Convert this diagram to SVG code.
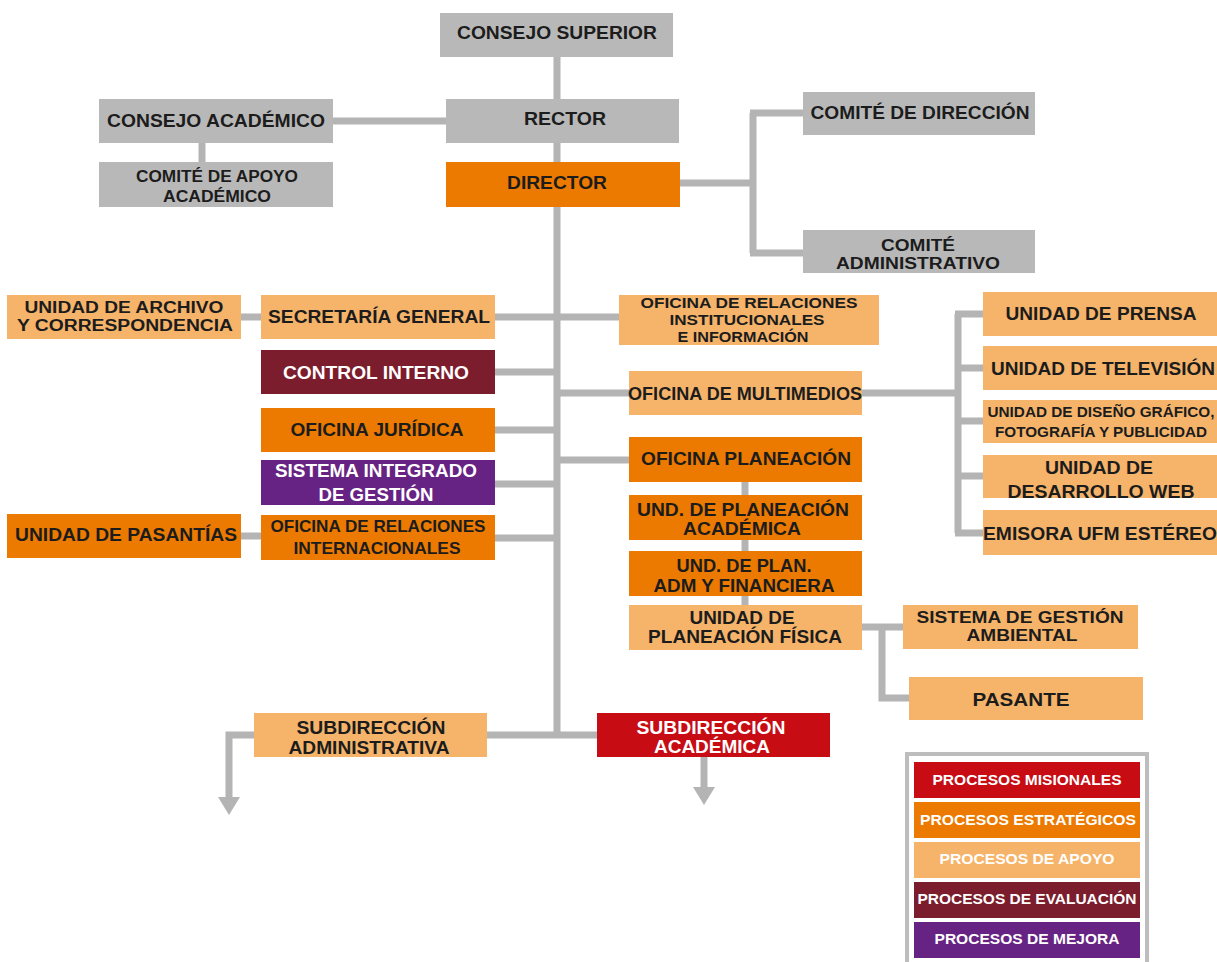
<svg xmlns="http://www.w3.org/2000/svg" width="1217" height="962" viewBox="0 0 1217 962">
<style>
.gray{fill:#b8b8b8}.org{fill:#ec7a00}.lo{fill:#f6b46b}.dr{fill:#7b1d2c}.pu{fill:#672383}.rd{fill:#c70c14}
.t{font-family:"Liberation Sans",Arial,sans-serif;font-weight:bold;text-anchor:middle;fill:#1c1c1c}
.w{fill:#ffffff}
.f19{font-size:19px}.f17{font-size:17px}.f16{font-size:16px}.f15{font-size:15px}.f14{font-size:14px}
.c{stroke:#b4b4b4;stroke-width:7;fill:none}
.ah{fill:#b4b4b4}
</style>
<rect width="1217" height="962" fill="#ffffff"/>
<g id="connectors">
<path class="c" d="M557 57V738"/>
<path class="c" d="M333 121H446"/>
<path class="c" d="M202 143V162"/>
<path class="c" d="M680 183H753M753 113V253M750 113H803M750 253H803"/>
<path class="c" d="M495 317H557M241 317H261"/>
<path class="c" d="M495 372H557"/>
<path class="c" d="M495 430H557"/>
<path class="c" d="M495 484H557"/>
<path class="c" d="M495 538H557M241 536H261"/>
<path class="c" d="M557 317H619"/>
<path class="c" d="M557 393H629"/>
<path class="c" d="M557 460H629"/>
<path class="c" d="M862 393H958M958 314V533M955 314H983M955 368H983M955 421H983M955 476H983M955 533H983"/>
<path class="c" d="M745 482V605"/>
<path class="c" d="M862 627H903M882 627V698H909"/>
<path class="c" d="M487 735H597M254 735H229V798"/>
<polygon class="ah" points="218,797 240,797 229,815"/>
<path class="c" d="M704 757V790"/>
<polygon class="ah" points="693,787 715,787 704,805"/>
</g>
<g id="consejo-superior"><rect class="gray" x="440" y="13" width="233" height="44"/><text class="t f19" x="557" y="39" textLength="200" lengthAdjust="spacingAndGlyphs">CONSEJO SUPERIOR</text></g>
<g id="rector"><rect class="gray" x="446" y="99" width="233" height="44"/><text class="t f19" x="565" y="125" textLength="82" lengthAdjust="spacingAndGlyphs">RECTOR</text></g>
<g id="consejo-academico"><rect class="gray" x="99" y="99" width="234" height="44"/><text class="t f19" x="216" y="127" textLength="218" lengthAdjust="spacingAndGlyphs">CONSEJO ACADÉMICO</text></g>
<g id="comite-apoyo"><rect class="gray" x="99" y="162" width="234" height="45"/><text class="t f16" x="217" y="182" textLength="162" lengthAdjust="spacingAndGlyphs">COMITÉ DE APOYO</text><text class="t f16" x="217" y="202" textLength="108" lengthAdjust="spacingAndGlyphs">ACADÉMICO</text></g>
<g id="director"><rect class="org" x="446" y="162" width="234" height="45"/><text class="t f19" x="557" y="189" textLength="100" lengthAdjust="spacingAndGlyphs">DIRECTOR</text></g>
<g id="comite-direccion"><rect class="gray" x="803" y="92" width="232" height="43"/><text class="t f19" x="920" y="119" textLength="219" lengthAdjust="spacingAndGlyphs">COMITÉ DE DIRECCIÓN</text></g>
<g id="comite-administrativo"><rect class="gray" x="803" y="230" width="232" height="43"/><text class="t f16" x="918" y="251" textLength="74" lengthAdjust="spacingAndGlyphs">COMITÉ</text><text class="t f16" x="918" y="269" textLength="164" lengthAdjust="spacingAndGlyphs">ADMINISTRATIVO</text></g>
<g id="unidad-archivo"><rect class="lo" x="7" y="295" width="234" height="44"/><text class="t f16" x="124" y="313" textLength="199" lengthAdjust="spacingAndGlyphs">UNIDAD DE ARCHIVO</text><text class="t f16" x="125" y="331" textLength="216" lengthAdjust="spacingAndGlyphs">Y CORRESPONDENCIA</text></g>
<g id="secretaria-general"><rect class="lo" x="261" y="295" width="234" height="44"/><text class="t f19" x="379" y="323" textLength="222" lengthAdjust="spacingAndGlyphs">SECRETARÍA GENERAL</text></g>
<g id="relaciones-institucionales"><rect class="lo" x="619" y="295" width="260" height="50"/><text class="t f15" x="749" y="308" textLength="217" lengthAdjust="spacingAndGlyphs">OFICINA DE RELACIONES</text><text class="t f15" x="747" y="325" textLength="155" lengthAdjust="spacingAndGlyphs">INSTITUCIONALES</text><text class="t f15" x="743" y="342" textLength="131" lengthAdjust="spacingAndGlyphs">E INFORMACIÓN</text></g>
<g id="control-interno"><rect class="dr" x="261" y="350" width="234" height="44"/><text class="t w f19" x="376" y="379" textLength="186" lengthAdjust="spacingAndGlyphs">CONTROL INTERNO</text></g>
<g id="oficina-multimedios"><rect class="lo" x="629" y="371" width="233" height="44"/><text class="t f19" x="745" y="400" textLength="234" lengthAdjust="spacingAndGlyphs">OFICINA DE MULTIMEDIOS</text></g>
<g id="unidad-prensa"><rect class="lo" x="983" y="292" width="234" height="44"/><text class="t f19" x="1101" y="320" textLength="191" lengthAdjust="spacingAndGlyphs">UNIDAD DE PRENSA</text></g>
<g id="unidad-television"><rect class="lo" x="983" y="346" width="234" height="44"/><text class="t f19" x="1103" y="375" textLength="224" lengthAdjust="spacingAndGlyphs">UNIDAD DE TELEVISIÓN</text></g>
<g id="unidad-diseno"><rect class="lo" x="983" y="400" width="234" height="43"/><text class="t f15" x="1101" y="417" textLength="227" lengthAdjust="spacingAndGlyphs">UNIDAD DE DISEÑO GRÁFICO,</text><text class="t f15" x="1101" y="437" textLength="212" lengthAdjust="spacingAndGlyphs">FOTOGRAFÍA Y PUBLICIDAD</text></g>
<g id="unidad-web"><rect class="lo" x="983" y="455" width="234" height="43"/><text class="t f19" x="1099" y="474" textLength="108" lengthAdjust="spacingAndGlyphs">UNIDAD DE</text><text class="t f19" x="1101" y="498" textLength="187" lengthAdjust="spacingAndGlyphs">DESARROLLO WEB</text></g>
<g id="emisora"><rect class="lo" x="983" y="510" width="234" height="45"/><text class="t f19" x="1100" y="540" textLength="234" lengthAdjust="spacingAndGlyphs">EMISORA UFM ESTÉREO</text></g>
<g id="oficina-juridica"><rect class="org" x="261" y="408" width="234" height="44"/><text class="t f19" x="377" y="436" textLength="173" lengthAdjust="spacingAndGlyphs">OFICINA JURÍDICA</text></g>
<g id="oficina-planeacion"><rect class="org" x="629" y="437" width="233" height="45"/><text class="t f19" x="746" y="465" textLength="210" lengthAdjust="spacingAndGlyphs">OFICINA PLANEACIÓN</text></g>
<g id="sistema-integrado"><rect class="pu" x="261" y="460" width="234" height="45"/><text class="t w f19" x="376" y="477" textLength="202" lengthAdjust="spacingAndGlyphs">SISTEMA INTEGRADO</text><text class="t w f19" x="376" y="501" textLength="115" lengthAdjust="spacingAndGlyphs">DE GESTIÓN</text></g>
<g id="und-planeacion-academica"><rect class="org" x="629" y="495" width="233" height="45"/><text class="t f19" x="743" y="516" textLength="212" lengthAdjust="spacingAndGlyphs">UND. DE PLANEACIÓN</text><text class="t f19" x="742" y="535" textLength="118" lengthAdjust="spacingAndGlyphs">ACADÉMICA</text></g>
<g id="unidad-pasantias"><rect class="org" x="7" y="514" width="234" height="44"/><text class="t f19" x="126" y="541" textLength="222" lengthAdjust="spacingAndGlyphs">UNIDAD DE PASANTÍAS</text></g>
<g id="relaciones-internacionales"><rect class="org" x="261" y="515" width="234" height="45"/><text class="t f17" x="378" y="532" textLength="215" lengthAdjust="spacingAndGlyphs">OFICINA DE RELACIONES</text><text class="t f17" x="377" y="554" textLength="167" lengthAdjust="spacingAndGlyphs">INTERNACIONALES</text></g>
<g id="und-plan-adm"><rect class="org" x="629" y="551" width="233" height="45"/><text class="t f19" x="744" y="572" textLength="135" lengthAdjust="spacingAndGlyphs">UND. DE PLAN.</text><text class="t f19" x="744" y="592" textLength="181" lengthAdjust="spacingAndGlyphs">ADM Y FINANCIERA</text></g>
<g id="unidad-planeacion-fisica"><rect class="lo" x="629" y="605" width="233" height="45"/><text class="t f19" x="742" y="624" textLength="105" lengthAdjust="spacingAndGlyphs">UNIDAD DE</text><text class="t f19" x="745" y="643" textLength="194" lengthAdjust="spacingAndGlyphs">PLANEACIÓN FÍSICA</text></g>
<g id="sistema-gestion-ambiental"><rect class="lo" x="903" y="605" width="235" height="44"/><text class="t f17" x="1020" y="623" textLength="207" lengthAdjust="spacingAndGlyphs">SISTEMA DE GESTIÓN</text><text class="t f17" x="1022" y="641" textLength="111" lengthAdjust="spacingAndGlyphs">AMBIENTAL</text></g>
<g id="pasante"><rect class="lo" x="909" y="677" width="234" height="43"/><text class="t f19" x="1021" y="706" textLength="97" lengthAdjust="spacingAndGlyphs">PASANTE</text></g>
<g id="subdireccion-administrativa"><rect class="lo" x="254" y="713" width="233" height="44"/><text class="t f19" x="371" y="734" textLength="149" lengthAdjust="spacingAndGlyphs">SUBDIRECCIÓN</text><text class="t f19" x="369" y="754" textLength="161" lengthAdjust="spacingAndGlyphs">ADMINISTRATIVA</text></g>
<g id="subdireccion-academica"><rect class="rd" x="597" y="713" width="233" height="44"/><text class="t w f19" x="711" y="734" textLength="149" lengthAdjust="spacingAndGlyphs">SUBDIRECCIÓN</text><text class="t w f19" x="712" y="753" textLength="116" lengthAdjust="spacingAndGlyphs">ACADÉMICA</text></g>
<g id="legend">
<rect x="907" y="754" width="240" height="220" fill="#ffffff" stroke="#bdbdbd" stroke-width="4"/>
<rect class="rd" x="914" y="762" width="226" height="36"/><text class="t w f14" x="1027" y="785" textLength="189" lengthAdjust="spacingAndGlyphs">PROCESOS MISIONALES</text>
<rect class="org" x="914" y="802" width="226" height="36"/><text class="t w f14" x="1028" y="825" textLength="216" lengthAdjust="spacingAndGlyphs">PROCESOS ESTRATÉGICOS</text>
<rect class="lo" x="914" y="842" width="226" height="36"/><text class="t w f14" x="1027" y="864" textLength="175" lengthAdjust="spacingAndGlyphs">PROCESOS DE APOYO</text>
<rect class="dr" x="914" y="882" width="226" height="36"/><text class="t w f14" x="1027" y="904" textLength="219" lengthAdjust="spacingAndGlyphs">PROCESOS DE EVALUACIÓN</text>
<rect class="pu" x="914" y="922" width="226" height="36"/><text class="t w f14" x="1027" y="944" textLength="185" lengthAdjust="spacingAndGlyphs">PROCESOS DE MEJORA</text>
</g>
</svg>
